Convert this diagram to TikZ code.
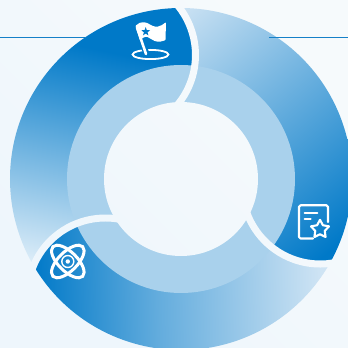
\documentclass[tikz,border=0pt]{standalone}
\definecolor{dk}{HTML}{0079C8}
\definecolor{ringc}{HTML}{A9D1EC}
\definecolor{bgA}{HTML}{EEF6FC}
\definecolor{bgB}{HTML}{F6FAFC}
\definecolor{fadeA}{HTML}{EEF6FC}
\definecolor{fadeB}{HTML}{CFE4F4}
\definecolor{linec}{HTML}{1580C8}
\pgfdeclareverticalshading{segA}{100bp}{color(0bp)=(fadeA); color(31bp)=(fadeA); color(66bp)=(dk); color(100bp)=(dk)}
\pgfdeclareverticalshading{segB}{100bp}{color(0bp)=(fadeB); color(30bp)=(fadeB); color(72bp)=(dk); color(100bp)=(dk)}
\pgfdeclareverticalshading{segC}{100bp}{color(0bp)=(fadeB); color(30bp)=(fadeB); color(54bp)=(dk!52!fadeB); color(72bp)=(dk); color(100bp)=(dk)}
\newcommand{\bgrect}{\shade[bottom color=bgA, top color=bgB, shading angle=-45] (-181,-169) rectangle (167,179);}
% one segment, drawn in the frame of the top-left one
\newcommand{\segpath}[1]{[rotate=#1] (90:171) arc[start angle=90,end angle=210,radius=171]
  -- ([shift={(156.5:78)}]-75.7,-116.9) arc[start angle=156.5,end angle=82.4,radius=78]
  -- (0,0) -- ([shift={(-37.6:78)}]-63.5,124) arc[start angle=-37.6,end angle=36.5,radius=78] -- cycle}
\newcommand{\bandpath}[1]{[rotate=#1] ([shift={(50:74.5)}]-63.5,124) arc[start angle=50,end angle=-50,radius=74.5]
  -- ([shift={(-50:81.5)}]-63.5,124) arc[start angle=-50,end angle=50,radius=81.5] -- cycle}
\tikzset{
  icon/.style={draw=white, line width=2.1pt, line cap=round, line join=round},
  rule/.style={draw=linec, line width=0.9pt},
  px/.style={shift={(-181,179)}, yscale=-1}
}
\begin{document}
\begin{tikzpicture}[x=1pt,y=1pt]
\useasboundingbox (-181,-169) rectangle (167,179);
\bgrect
\draw[rule] (-181,141.7) -- (-96,141.7);
% segments
\begin{scope}\clip \segpath{0}; \shade[shading=segA, shading angle=-12] (0,0) circle (172); \end{scope}
\begin{scope}\clip \segpath{-120}; \shade[shading=segB, shading angle=-140] (0,0) circle (172); \end{scope}
\begin{scope}\clip \segpath{-240}; \shade[shading=segC, shading angle=92] (0,0) circle (172); \end{scope}
% middle ring and centre
\fill[ringc] (0,0) circle (114);
\begin{scope}\clip (0,0) circle (77); \bgrect \end{scope}
% separating bands
\begin{scope}\clip \bandpath{0}; \bgrect \end{scope}
\begin{scope}\clip \bandpath{-120}; \bgrect \end{scope}
\begin{scope}\clip \bandpath{-240}; \bgrect \end{scope}
\draw[rule] (88,141.7) -- (167,141.7);
\begin{scope}[px]
% flag icon
\draw[white, line width=1.8pt] (150.5,54.5) ellipse (17.9 and 4.6);
\draw[dk, line width=6pt] (143.6,46) -- (145.8,52);
\fill[white, rounded corners=0.8pt] (135.5,26) .. controls (138,23) and (141,22.3) .. (143.5,22.3) .. controls (148,22.3) and (152,26.8) .. (156.7,26.7) .. controls (160,26.6) and (163,24.5) .. (165.9,22.2) -- (165.6,40) .. controls (162,42) and (158,42) .. (155,41) .. controls (151,39.8) and (149,37) .. (146.5,36.8) .. controls (144,36.7) and (142,38.5) .. (140,40.5) -- cycle;
\draw[white, line width=2.6pt, line cap=round] (137,27.5) -- (146,54);
\fill[dk] (145.7,31.7) +(-90:4.6) -- +(-54:1.9) -- +(-18:4.6) -- +(18:1.9) -- +(54:4.6) -- +(90:1.9) -- +(126:4.6) -- +(162:1.9) -- +(198:4.6) -- +(234:1.9) -- cycle;
% document icon
\draw[icon] (313,238.5) -- (301,238.5) [rounded corners=1.5pt] -- (299,238.5) -- (299,205.3) -- (328,205.3) -- (328,222);
\draw[icon] (304.7,212.7) -- (317.3,212.7);
\draw[icon] (304.7,219.3) -- (310.7,219.3);
\draw[icon] (320,229.3) +(-90:9.5) -- +(-54:5) -- +(-18:9.5) -- +(18:5) -- +(54:9.5) -- +(90:5) -- +(126:9.5) -- +(162:5) -- +(198:9.5) -- +(234:5) -- cycle;
% atom icon
\draw[white, line width=3pt, rotate around={45:(67.8,261.5)}] (67.8,261.5) ellipse (21 and 9.5);
\draw[white, line width=3pt, rotate around={-45:(67.8,261.5)}] (67.8,261.5) ellipse (21 and 9.5);
\draw[white, line width=1.4pt] (67.8,261.5) circle (6);
\fill[white] (67.8,261.5) circle (2.2);
\end{scope}
\end{tikzpicture}
\end{document}
